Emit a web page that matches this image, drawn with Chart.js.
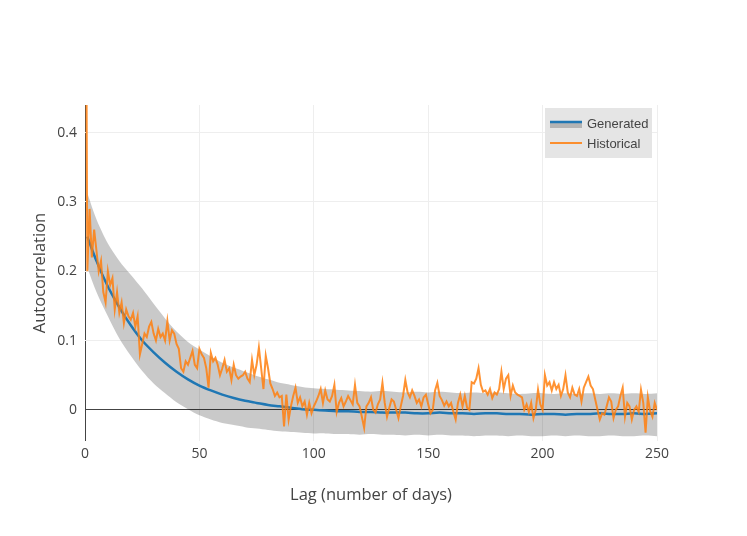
<!DOCTYPE html>
<html>
<head>
<meta charset="utf-8">
<script src="https://cdn.jsdelivr.net/npm/chart.js@4"></script>
<style>
  body { margin: 0; background: #fff; }
  #wrap { width: 747px; height: 536px; }
</style>
</head>
<body>
<div id="wrap"><canvas id="acf" width="747" height="536"></canvas></div>
<script>
// HISTORICAL ACF, one value per lag 0..250
const historical = [
  1.0, 0.20, 0.29, 0.22, 0.26, 0.23, 0.20, 0.215, 0.17, 0.155,
  0.20, 0.18, 0.19, 0.145, 0.17, 0.14, 0.155, 0.125, 0.145, 0.135,
  0.13, 0.14, 0.12, 0.135, 0.08, 0.095, 0.11, 0.105, 0.12, 0.127,
  0.11, 0.10, 0.117, 0.105, 0.11, 0.10, 0.128, 0.10, 0.115, 0.11,
  0.095, 0.088, 0.06, 0.055, 0.07, 0.065, 0.075, 0.085, 0.065, 0.06,
  0.088, 0.08, 0.075, 0.06, 0.032, 0.082, 0.07, 0.075, 0.065, 0.05,
  0.06, 0.072, 0.055, 0.06, 0.043, 0.065, 0.05, 0.045, 0.048, 0.05,
  0.055, 0.045, 0.04, 0.072, 0.05, 0.065, 0.09, 0.06, 0.03, 0.078,
  0.06, 0.038, 0.03, 0.02, 0.025, 0.018, 0.02, -0.024, 0.022, -0.014,
  0.005, 0.02, 0.032, 0.01, 0.018, 0.005, 0.012, -0.007, 0.01, -0.005,
  0.005, 0.012, 0.02, 0.03, 0.01, 0.028, 0.015, 0.012, 0.02, 0.036,
  -0.003, 0.01, 0.017, 0.005, 0.012, 0.02, 0.014, 0.008, 0.036, 0.01,
  0.005, -0.01, -0.026, 0.005, 0.01, 0.018, 0.0, -0.004, 0.008, 0.015,
  0.039, 0.01, -0.01, 0.003, 0.015, 0.012, 0.0, -0.012, 0.005, 0.02,
  0.043, 0.025, 0.018, 0.028, 0.02, 0.01, 0.015, 0.005, 0.018, 0.022,
  0.008, -0.005, 0.0, 0.028, 0.039, 0.02, 0.014, 0.006, 0.012, 0.005,
  0.01, -0.003, -0.014, 0.01, 0.022, 0.005, 0.02, 0.003, 0.0, 0.04,
  0.038, 0.045, 0.06, 0.036, 0.026, 0.028, 0.022, 0.03, 0.017, 0.025,
  0.022, 0.03, 0.055, 0.03, 0.045, 0.05, 0.02, 0.035, 0.025, 0.022,
  0.02, 0.018, 0.0, 0.008, -0.003, 0.01, -0.012, 0.0, 0.029, 0.008,
  0.0, 0.05, 0.035, 0.04, 0.028, 0.04, 0.03, 0.036, 0.02, 0.03,
  0.05, 0.025, 0.018, 0.032, 0.022, 0.02, 0.03, 0.012, 0.032, 0.04,
  0.048, 0.035, 0.03, 0.015, 0.0, -0.014, -0.005, -0.007, 0.005, 0.018,
  0.012, -0.012, 0.0, 0.005, 0.02, 0.032, -0.01, 0.01, 0.005, -0.014,
  0.0, 0.005, -0.003, 0.029, 0.01, -0.033, 0.018, -0.002, -0.01, 0.01,
  0.0
];

// GENERATED ACF (mean and band), sampled lags
const genLags = [1, 5, 10, 15, 20, 25, 30, 35, 40, 45, 50, 55, 60, 65, 70, 75, 80, 85, 90, 95,
  100, 105, 110, 115, 120, 125, 130, 135, 140, 145, 150, 155, 160, 165, 170, 175, 180, 185, 190, 195,
  200, 205, 210, 215, 220, 225, 230, 235, 240, 245, 250];
const generated = [0.25, 0.215, 0.178, 0.148, 0.122, 0.10, 0.083, 0.068, 0.055, 0.044,
  0.035, 0.028, 0.022, 0.017, 0.013, 0.01, 0.007, 0.005, 0.003, 0.001,
  0.0, -0.001, -0.002, -0.002, -0.003, -0.003, -0.004, -0.004, -0.004, -0.005,
  -0.005, -0.004, -0.005, -0.005, -0.006, -0.005, -0.005, -0.006, -0.006, -0.007,
  -0.006, -0.006, -0.007, -0.006, -0.006, -0.005, -0.006, -0.006, -0.005, -0.006, -0.005];
const genUpper = [0.313, 0.275, 0.24, 0.215, 0.195, 0.175, 0.153, 0.132, 0.113, 0.098,
  0.087, 0.077, 0.068, 0.061, 0.055, 0.049, 0.044, 0.039, 0.036, 0.033,
  0.031, 0.03, 0.029, 0.028, 0.027, 0.026, 0.027, 0.026, 0.025, 0.026,
  0.025, 0.026, 0.025, 0.024, 0.025, 0.024, 0.025, 0.024, 0.023, 0.024,
  0.024, 0.023, 0.024, 0.023, 0.024, 0.023, 0.024, 0.023, 0.024, 0.023, 0.024];
const genLower = [0.205, 0.17, 0.135, 0.103, 0.078, 0.056, 0.038, 0.024, 0.011, 0.001,
  -0.008, -0.014, -0.019, -0.022, -0.025, -0.027, -0.029, -0.031, -0.032, -0.033,
  -0.034, -0.034, -0.035, -0.035, -0.036, -0.035, -0.036, -0.036, -0.037, -0.036,
  -0.037, -0.036, -0.037, -0.037, -0.038, -0.037, -0.037, -0.038, -0.037, -0.038,
  -0.038, -0.037, -0.038, -0.037, -0.038, -0.038, -0.037, -0.038, -0.038, -0.037, -0.038];

const xTicks = [0, 50, 100, 150, 200, 250];
const yTicks = [0, 0.1, 0.2, 0.3, 0.4];

const pts = (xs, ys) => ys.map((v, i) => ({ x: xs[i], y: v }));
const histPts = historical.map((v, i) => ({ x: i, y: v }));

// legend box in the top right corner of the plot
const boxLegend = {
  id: 'boxLegend',
  afterDraw(chart) {
    const { ctx, chartArea: a } = chart;
    const w = 107, h = 50;
    const x = a.right - w - 5, y = a.top + 3;
    ctx.save();
    ctx.fillStyle = '#e5e5e5';
    ctx.fillRect(x, y, w, h);
    // Generated: gray band + blue line
    ctx.fillStyle = 'rgba(0,0,0,0.21)';
    ctx.fillRect(x + 5, y + 14, 32, 6);
    ctx.strokeStyle = '#1f77b4';
    ctx.lineWidth = 2.5;
    ctx.beginPath(); ctx.moveTo(x + 5, y + 14); ctx.lineTo(x + 37, y + 14); ctx.stroke();
    // Historical
    ctx.strokeStyle = 'rgba(255,127,14,0.85)';
    ctx.lineWidth = 2;
    ctx.beginPath(); ctx.moveTo(x + 5, y + 35); ctx.lineTo(x + 37, y + 35); ctx.stroke();
    ctx.fillStyle = '#444';
    ctx.font = '13px "Liberation Sans", Arial, sans-serif';
    ctx.textBaseline = 'middle';
    ctx.fillText('Generated', x + 42, y + 16);
    ctx.fillText('Historical', x + 42, y + 36);
    ctx.restore();
  }
};

const zeroGrid = (c) => (c.tick && c.tick.value === 0 ? '#444' : '#eee');

new Chart(document.getElementById('acf'), {
  type: 'line',
  data: {
    datasets: [
      {
        label: 'Historical',
        data: histPts,
        borderColor: 'rgba(255,127,14,0.85)',
        borderWidth: 2,
        pointRadius: 0,
        tension: 0,
        fill: false,
        order: 0
      },
      {
        label: 'Generated',
        data: pts(genLags, generated),
        borderColor: '#1f77b4',
        borderWidth: 2.5,
        pointRadius: 0,
        tension: 0.3,
        fill: false,
        order: 1
      },
      {
        label: 'upper',
        data: pts(genLags, genUpper),
        borderWidth: 0,
        borderColor: 'rgba(0,0,0,0)',
        backgroundColor: 'rgba(0,0,0,0.21)',
        pointRadius: 0,
        tension: 0.3,
        fill: '+1',
        order: 2
      },
      {
        label: 'lower',
        data: pts(genLags, genLower),
        borderWidth: 0,
        borderColor: 'rgba(0,0,0,0)',
        pointRadius: 0,
        tension: 0.3,
        fill: false,
        order: 3
      }
    ]
  },
  options: {
    responsive: false,
    animation: false,
    layout: { padding: { top: 105, right: 90, left: 0, bottom: 0 } },
    plugins: {
      legend: { display: false },
      tooltip: { enabled: false }
    },
    scales: {
      x: {
        type: 'linear',
        min: 0,
        max: 250,
        afterFit: (s) => { s.height = 95; },
        afterBuildTicks: (s) => { s.ticks = xTicks.map(v => ({ value: v })); },
        grid: { color: zeroGrid, drawTicks: false, lineWidth: 1 },
        border: { display: false },
        ticks: {
          padding: 5,
          color: '#444',
          font: { family: '"Open Sans", sans-serif', size: 14 },
          callback: (v) => String(v)
        },
        title: {
          display: true,
          text: 'Lag (number of days)',
          color: '#444',
          font: { family: '"Open Sans", sans-serif', size: 16.5 },
          padding: { top: 0, bottom: 31 }
        }
      },
      y: {
        min: -0.045,
        max: 0.44,
        afterFit: (s) => { s.width = 85; },
        afterBuildTicks: (s) => { s.ticks = yTicks.map(v => ({ value: v })); },
        grid: { color: zeroGrid, drawTicks: false, lineWidth: 1 },
        border: { display: false },
        ticks: {
          padding: 8,
          color: '#444',
          font: { family: '"Open Sans", sans-serif', size: 14 },
          callback: (v) => String(v)
        },
        title: {
          display: true,
          text: 'Autocorrelation',
          color: '#444',
          font: { family: '"Open Sans", sans-serif', size: 16.5 },
          padding: { top: 30, bottom: 0 }
        }
      }
    }
  },
  plugins: [boxLegend]
});
</script>
</body>
</html>
